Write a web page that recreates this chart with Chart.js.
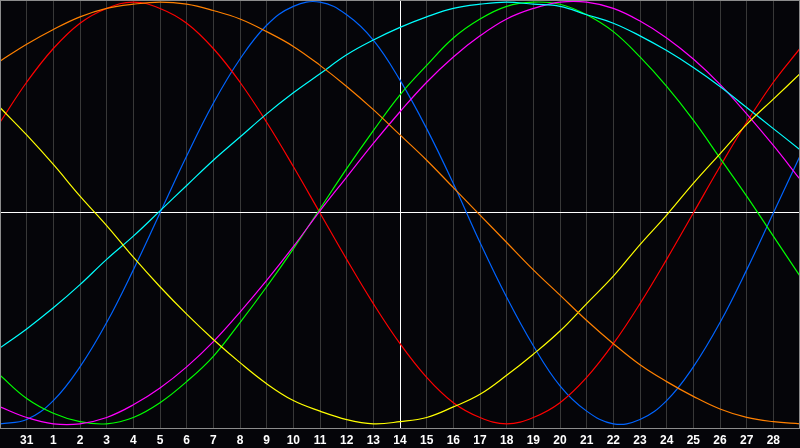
<!DOCTYPE html>
<html>
<head>
<meta charset="utf-8">
<script src="https://cdn.jsdelivr.net/npm/chart.js@4"></script>
<style>
    html, body { margin: 0; padding: 0; background: #050509; }
    #chart { display: block; }
</style>
</head>
<body>
<canvas id="chart" width="800" height="448"></canvas>
<script>
// day labels under each grid line (first and last are not printed)
const days = ['30', '31', '1', '2', '3', '4', '5', '6', '7', '8', '9', '10', '11', '12', '13',
    '14', '15', '16', '17', '18', '19', '20', '21', '22', '23', '24', '25', '26', '27', '28', '1'];
const todayIndex = 15;

// values in percent at each day
const physical     = [-100, -98, -89, -73, -52, -27, 0, 27, 52, 73, 89, 98, 100, 94, 82, 63, 40, 14, -14, -40, -63, -82, -94, -100, -98, -89, -73, -52, -27, 0, 27];
const emotional    = [43, 62, 78, 90, 97, 100, 97, 90, 78, 62, 43, 22, 0, -22, -43, -62, -78, -90, -97, -100, -97, -90, -78, -62, -43, -22, 0, 22, 43, 62, 78];
const intellectual = [-77, -88, -95, -99, -100, -97, -90, -80, -68, -52, -35, -17, 2, 21, 39, 56, 70, 83, 92, 98, 100, 99, 94, 86, 74, 60, 44, 26, 8, -11, -30];
const intuitive    = [-92, -97, -100, -100, -97, -91, -83, -73, -61, -47, -32, -16, 1, 17, 33, 48, 62, 74, 84, 92, 97, 100, 100, 97, 91, 83, 73, 61, 47, 32, 16];
const aesthetic    = [50, 37, 23, 8, -6, -21, -35, -48, -60, -71, -81, -89, -94, -98, -100, -99, -97, -92, -86, -77, -67, -56, -43, -30, -15, -1, 14, 28, 42, 54, 66];
const awareness    = [72, 80, 87, 93, 97, 99, 100, 99, 96, 92, 86, 79, 70, 60, 49, 37, 25, 12, -1, -14, -27, -39, -51, -62, -72, -80, -87, -93, -97, -99, -100];
const spiritual    = [-64, -55, -45, -34, -22, -11, 1, 13, 25, 36, 47, 57, 66, 75, 82, 88, 93, 97, 99, 100, 99, 98, 94, 90, 84, 77, 69, 60, 50, 40, 30];

function line(data, color) {
    return {
        data: data,
        borderColor: color,
        borderWidth: 1.2,
        pointRadius: 0,
        tension: 0.4,
        fill: false
    };
}

const frame = {
    id: 'frame',
    beforeDraw(chart) {
        const ctx = chart.ctx;
        ctx.save();
        ctx.fillStyle = '#050509';
        ctx.fillRect(0, 0, chart.width, chart.height);
        ctx.restore();
    },
    afterDatasetsDraw(chart) {
        const a = chart.chartArea;
        const ctx = chart.ctx;
        ctx.save();
        ctx.strokeStyle = '#8c8c8c';
        ctx.lineWidth = 1;
        ctx.strokeRect(a.left + 0.5, a.top + 0.5, a.right - a.left - 1, a.bottom - a.top);
        ctx.restore();
    }
};

new Chart(document.getElementById('chart'), {
    type: 'line',
    data: {
        labels: days,
        datasets: [
            line(awareness, '#ff8000'),
            line(aesthetic, '#ffff00'),
            line(spiritual, '#00ffff'),
            line(intuitive, '#ff00ff'),
            line(intellectual, '#00ff00'),
            line(emotional, '#ff0000'),
            line(physical, '#0064ff')
        ]
    },
    options: {
        responsive: false,
        devicePixelRatio: 1,
        animation: false,
        layout: { padding: 0 },
        plugins: {
            legend: { display: false },
            tooltip: { enabled: false }
        },
        scales: {
            x: {
                offset: false,
                afterFit: s => { s.height = 20; s.paddingLeft = 0; s.paddingRight = 0; },
                border: { display: false },
                grid: {
                    drawTicks: false,
                    color: c => c.index === todayIndex ? '#ffffff' : '#383838'
                },
                ticks: {
                    autoSkip: false,
                    maxRotation: 0,
                    padding: 5,
                    color: '#ffffff',
                    font: { family: 'Liberation Sans', size: 12, weight: 'bold' },
                    callback: (v, i) => (i === 0 || i === days.length - 1) ? '' : days[i]
                }
            },
            y: {
                min: -102,
                max: 101,
                afterFit: s => { s.width = 0; },
                afterBuildTicks: s => { s.ticks = [{ value: 0 }]; },
                border: { display: false },
                grid: { drawTicks: false, color: '#ffffff' },
                ticks: { display: false }
            }
        }
    },
    plugins: [frame]
});
</script>
</body>
</html>
